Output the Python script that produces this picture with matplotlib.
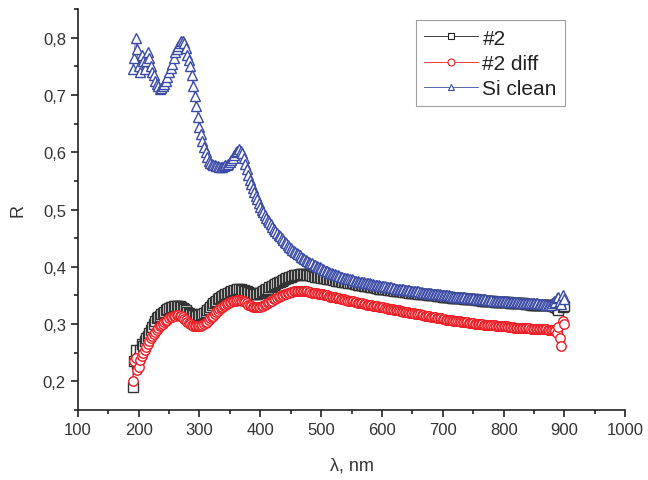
import numpy as np
import matplotlib
matplotlib.use("Agg")
import matplotlib.pyplot as plt
from matplotlib.lines import Line2D
from matplotlib.ticker import MultipleLocator, FuncFormatter

plt.rcParams['font.family'] = ['Liberation Sans', 'DejaVu Sans']

# wavelength grid, nm (2.5 nm step)
wavelength = np.arange(190, 900.1, 2.5)

sample2 = [
    0.190, 0.235, 0.255, 0.230, 0.240, 0.255, 0.265, 0.262, 0.270, 0.275,
    0.280, 0.285, 0.290, 0.295, 0.300, 0.305, 0.310, 0.312, 0.315, 0.318,
    0.320, 0.322, 0.325, 0.327, 0.328, 0.329, 0.330, 0.331, 0.331, 0.332,
    0.332, 0.331, 0.330, 0.328, 0.326, 0.324, 0.322, 0.320, 0.318, 0.317,
    0.316, 0.315, 0.315, 0.315, 0.316, 0.317, 0.318, 0.320, 0.322, 0.324,
    0.327, 0.330, 0.333, 0.336, 0.338, 0.341, 0.343, 0.345, 0.347, 0.349,
    0.350, 0.352, 0.353, 0.355, 0.356, 0.357, 0.358, 0.359, 0.360, 0.361,
    0.361, 0.361, 0.360, 0.359, 0.358, 0.357, 0.356, 0.355, 0.354, 0.353,
    0.353, 0.353, 0.353, 0.354, 0.355, 0.356, 0.358, 0.359, 0.361, 0.362,
    0.364, 0.365, 0.367, 0.368, 0.370, 0.371, 0.373, 0.374, 0.376, 0.377,
    0.379, 0.380, 0.381, 0.382, 0.383, 0.384, 0.385, 0.385, 0.386, 0.386,
    0.387, 0.387, 0.387, 0.387, 0.386, 0.386, 0.385, 0.385, 0.384, 0.384,
    0.383, 0.383, 0.382, 0.382, 0.381, 0.380, 0.380, 0.380, 0.379, 0.379,
    0.378, 0.378, 0.377, 0.377, 0.376, 0.376, 0.375, 0.375, 0.374, 0.374,
    0.373, 0.373, 0.372, 0.372, 0.371, 0.371, 0.370, 0.370, 0.369, 0.369,
    0.368, 0.368, 0.367, 0.367, 0.366, 0.366, 0.365, 0.365, 0.364, 0.364,
    0.363, 0.363, 0.362, 0.362, 0.362, 0.362, 0.361, 0.361, 0.360, 0.360,
    0.359, 0.359, 0.358, 0.358, 0.358, 0.358, 0.357, 0.357, 0.356, 0.356,
    0.356, 0.356, 0.355, 0.355, 0.354, 0.354, 0.354, 0.354, 0.353, 0.353,
    0.352, 0.352, 0.352, 0.352, 0.351, 0.351, 0.350, 0.350, 0.350, 0.350,
    0.349, 0.349, 0.349, 0.349, 0.348, 0.348, 0.348, 0.348, 0.347, 0.347,
    0.346, 0.346, 0.346, 0.346, 0.345, 0.345, 0.345, 0.345, 0.344, 0.344,
    0.344, 0.344, 0.343, 0.343, 0.343, 0.343, 0.342, 0.342, 0.342, 0.342,
    0.341, 0.341, 0.341, 0.341, 0.340, 0.340, 0.340, 0.340, 0.339, 0.339,
    0.339, 0.339, 0.339, 0.339, 0.338, 0.338, 0.338, 0.338, 0.337, 0.337,
    0.337, 0.337, 0.336, 0.336, 0.336, 0.336, 0.336, 0.336, 0.335, 0.335,
    0.335, 0.335, 0.334, 0.334, 0.334, 0.334, 0.334, 0.334, 0.333, 0.333,
    0.333, 0.333, 0.333, 0.333, 0.333, 0.333, 0.332, 0.332, 0.330, 0.328,
    0.325, 0.335, 0.340, 0.330, 0.332]

sample2_diff = [
    0.200, 0.235, 0.240, 0.220, 0.225, 0.238, 0.245, 0.250, 0.255, 0.260,
    0.265, 0.270, 0.275, 0.279, 0.283, 0.287, 0.290, 0.293, 0.296, 0.298,
    0.300, 0.303, 0.305, 0.308, 0.310, 0.312, 0.313, 0.314, 0.315, 0.316,
    0.316, 0.315, 0.314, 0.312, 0.309, 0.307, 0.304, 0.302, 0.300, 0.298,
    0.297, 0.296, 0.296, 0.296, 0.296, 0.297, 0.298, 0.300, 0.302, 0.304,
    0.307, 0.310, 0.312, 0.315, 0.318, 0.321, 0.323, 0.326, 0.328, 0.330,
    0.332, 0.334, 0.335, 0.337, 0.338, 0.339, 0.340, 0.341, 0.341, 0.342,
    0.342, 0.342, 0.341, 0.340, 0.338, 0.336, 0.334, 0.333, 0.331, 0.330,
    0.329, 0.329, 0.329, 0.329, 0.330, 0.331, 0.332, 0.334, 0.335, 0.337,
    0.338, 0.340, 0.341, 0.343, 0.344, 0.346, 0.347, 0.349, 0.350, 0.351,
    0.352, 0.353, 0.354, 0.355, 0.356, 0.356, 0.357, 0.357, 0.358, 0.358,
    0.358, 0.358, 0.358, 0.358, 0.357, 0.357, 0.356, 0.356, 0.355, 0.355,
    0.354, 0.354, 0.353, 0.353, 0.352, 0.352, 0.351, 0.351, 0.350, 0.349,
    0.348, 0.348, 0.347, 0.347, 0.346, 0.345, 0.345, 0.344, 0.343, 0.343,
    0.342, 0.342, 0.341, 0.341, 0.340, 0.340, 0.339, 0.338, 0.337, 0.337,
    0.336, 0.336, 0.335, 0.335, 0.334, 0.334, 0.333, 0.333, 0.332, 0.332,
    0.331, 0.331, 0.330, 0.330, 0.329, 0.329, 0.328, 0.328, 0.327, 0.327,
    0.326, 0.326, 0.325, 0.325, 0.324, 0.324, 0.323, 0.323, 0.322, 0.322,
    0.321, 0.321, 0.320, 0.320, 0.319, 0.319, 0.318, 0.318, 0.317, 0.317,
    0.316, 0.316, 0.315, 0.315, 0.314, 0.314, 0.313, 0.313, 0.312, 0.312,
    0.311, 0.311, 0.310, 0.310, 0.309, 0.309, 0.308, 0.308, 0.307, 0.307,
    0.307, 0.306, 0.306, 0.305, 0.305, 0.305, 0.304, 0.304, 0.304, 0.303,
    0.303, 0.302, 0.302, 0.302, 0.302, 0.301, 0.301, 0.300, 0.300, 0.300,
    0.300, 0.299, 0.299, 0.299, 0.299, 0.298, 0.298, 0.298, 0.298, 0.297,
    0.297, 0.297, 0.297, 0.296, 0.296, 0.296, 0.296, 0.295, 0.295, 0.295,
    0.295, 0.294, 0.294, 0.294, 0.294, 0.294, 0.294, 0.293, 0.293, 0.293,
    0.293, 0.293, 0.292, 0.292, 0.292, 0.292, 0.292, 0.291, 0.291, 0.291,
    0.291, 0.291, 0.291, 0.290, 0.290, 0.290, 0.290, 0.289, 0.288, 0.285,
    0.295, 0.275, 0.262, 0.305, 0.300]

si_clean = [
    0.745, 0.765, 0.800, 0.780, 0.750, 0.740, 0.770, 0.760, 0.745, 0.760,
    0.775, 0.765, 0.750, 0.740, 0.735, 0.725, 0.720, 0.715, 0.710, 0.712,
    0.715, 0.720, 0.725, 0.732, 0.740, 0.748, 0.755, 0.765, 0.775, 0.780,
    0.785, 0.790, 0.795, 0.794, 0.790, 0.782, 0.770, 0.762, 0.750, 0.735,
    0.715, 0.698, 0.680, 0.662, 0.645, 0.632, 0.620, 0.610, 0.600, 0.592,
    0.585, 0.582, 0.580, 0.578, 0.577, 0.576, 0.576, 0.575, 0.575, 0.575,
    0.576, 0.577, 0.578, 0.580, 0.583, 0.586, 0.590, 0.595, 0.600, 0.603,
    0.605, 0.603, 0.598, 0.590, 0.580, 0.570, 0.560, 0.552, 0.545, 0.537,
    0.530, 0.524, 0.518, 0.511, 0.505, 0.500, 0.495, 0.490, 0.486, 0.482,
    0.478, 0.474, 0.470, 0.466, 0.463, 0.459, 0.456, 0.453, 0.450, 0.447,
    0.444, 0.441, 0.438, 0.435, 0.433, 0.430, 0.428, 0.426, 0.424, 0.422,
    0.420, 0.418, 0.416, 0.414, 0.412, 0.410, 0.409, 0.407, 0.406, 0.404,
    0.403, 0.401, 0.400, 0.399, 0.398, 0.396, 0.395, 0.393, 0.392, 0.391,
    0.390, 0.389, 0.388, 0.387, 0.386, 0.385, 0.384, 0.383, 0.382, 0.381,
    0.381, 0.380, 0.379, 0.378, 0.378, 0.377, 0.376, 0.375, 0.375, 0.374,
    0.374, 0.373, 0.373, 0.372, 0.372, 0.371, 0.371, 0.370, 0.370, 0.369,
    0.369, 0.368, 0.368, 0.367, 0.367, 0.366, 0.366, 0.365, 0.365, 0.364,
    0.364, 0.363, 0.363, 0.362, 0.362, 0.362, 0.362, 0.361, 0.361, 0.360,
    0.360, 0.359, 0.359, 0.358, 0.358, 0.358, 0.358, 0.357, 0.357, 0.356,
    0.356, 0.355, 0.355, 0.355, 0.355, 0.354, 0.354, 0.353, 0.353, 0.352,
    0.352, 0.352, 0.352, 0.351, 0.351, 0.350, 0.350, 0.350, 0.350, 0.349,
    0.349, 0.348, 0.348, 0.348, 0.348, 0.347, 0.347, 0.347, 0.347, 0.346,
    0.346, 0.345, 0.345, 0.345, 0.345, 0.344, 0.344, 0.344, 0.344, 0.343,
    0.343, 0.343, 0.343, 0.342, 0.342, 0.342, 0.342, 0.341, 0.341, 0.341,
    0.341, 0.340, 0.340, 0.340, 0.340, 0.340, 0.340, 0.339, 0.339, 0.339,
    0.339, 0.338, 0.338, 0.338, 0.338, 0.337, 0.337, 0.337, 0.337, 0.337,
    0.337, 0.336, 0.336, 0.336, 0.336, 0.336, 0.336, 0.335, 0.335, 0.335,
    0.335, 0.335, 0.334, 0.334, 0.334, 0.334, 0.336, 0.340, 0.338, 0.345,
    0.347, 0.340, 0.335, 0.350, 0.343]

labels = ['#2', '#2 diff', 'Si clean']
colors = ['#222222', '#ee1c24', '#3b4ba6']
edge_colors = ['#333333', '#ee1c24', '#3b4ba6']
markers = ['s', 'o', '^']
series = [sample2, sample2_diff, si_clean]

fig = plt.figure(figsize=(6.48, 4.81), dpi=100)
ax = fig.add_axes([0.120, 0.1455, 0.845, 0.8335])

for vals, col, ec, mk in zip(series, colors, edge_colors, markers):
    ax.plot(wavelength, vals, color=col, lw=0.6, marker=mk, ms=6.8,
            mfc='white', mec=ec, mew=1.0)

ax.set_xlim(100, 1000)
ax.set_ylim(0.15, 0.85)
ax.xaxis.set_major_locator(MultipleLocator(100))
ax.xaxis.set_minor_locator(MultipleLocator(50))
ax.yaxis.set_major_locator(MultipleLocator(0.1))
ax.yaxis.set_minor_locator(MultipleLocator(0.05))
ax.yaxis.set_major_formatter(FuncFormatter(lambda v, p: f'{v:.1f}'.replace('.', ',')))

for s in ['top', 'right']:
    ax.spines[s].set_visible(False)
for s in ['left', 'bottom']:
    ax.spines[s].set_linewidth(1.2)
    ax.spines[s].set_color('#222222')
ax.tick_params(which='major', direction='out', length=5, width=1.2, labelsize=12,
               colors='#222222', labelcolor='#333333')
ax.tick_params(which='minor', direction='out', length=3, width=1.2, colors='#222222')

ax.set_xlabel('λ, nm', fontsize=13, color='#333333', labelpad=14)
ax.set_ylabel('R', fontsize=13, color='#333333', labelpad=12)

handles = [Line2D([], [], color=c, lw=0.6, marker=m, ms=5, mfc='white', mec=c, mew=0.8)
           for c, m in zip(colors, markers)]
leg = ax.legend(handles, labels, loc='upper right', bbox_to_anchor=(0.89, 0.972),
                fontsize=15, frameon=True, fancybox=False, edgecolor='#888888',
                handlelength=2.6, handletextpad=0.2, labelspacing=0.3,
                borderpad=0.4, borderaxespad=0)
leg.get_frame().set_linewidth(0.8)
for t in leg.get_texts():
    t.set_color('#222222')

fig.savefig('out.png', dpi=100)
